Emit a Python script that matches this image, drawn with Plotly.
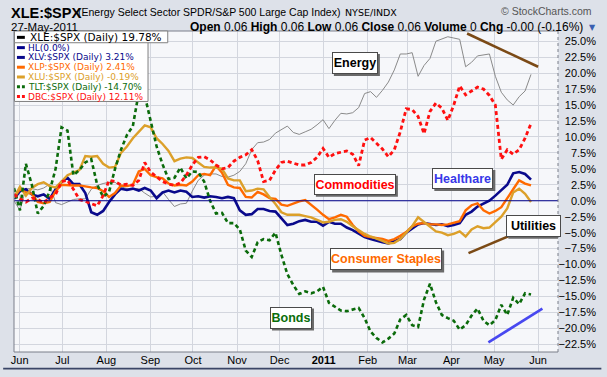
import pandas as pd
import plotly.graph_objects as go

W, H = 607, 377
PL, PR, PT, PB = 11, 563, 31, 359  # plot area in pixels

# ---------------- data ----------------
dates = pd.date_range("2010-05-28", "2011-05-27", periods=88)

xle_vals = [0.0, -1.5, 1.9, 1.9, 1.7, 2.0, 2.6, -0.3, -0.6, -0.2,
            0.2, 0.3, 0.3, 1.8, 2.4, 2.7, 2.9, 2.9, 2.2, 1.9,
            1.9, 1.9, 1.2, 0.6, 0.7, 1.4, 0.2, -0.9, -0.5, -0.4,
            1.5, 3.2, 4.0, 4.2, 4.2, 3.8, 3.7, 4.0, 4.6, 5.8,
            8.0, 9.1, 9.2, 9.6, 10.6, 11.2, 11.7, 10.7, 10.4, 10.8,
            11.2, 11.9, 12.7, 11.3, 12.6, 13.7, 13.6, 13.8, 14.6, 16.8,
            17.1, 16.2, 17.3, 18.6, 20.5, 23.0, 23.0, 23.2, 19.5, 21.2,
            22.3, 25.0, 25.3, 25.7, 25.5, 25.3, 21.0, 21.7, 22.7, 22.8,
            23.0, 19.5, 17.0, 15.8, 15.0, 16.3, 17.2, 19.8]

xlv_vals = [0.3, 1.5, 1.8, 1.0, 0.7, 1.0, 0.3, 1.8, 3.0, 3.6,
            2.6, 2.6, 1.2, -1.8, -2.2, -1.6, -0.2, 1.0, 1.9, 1.7,
            1.9, 1.6, 2.0, 1.6, 0.4, 1.3, 1.6, 1.3, 1.6, 1.4,
            0.6, 0.7, 0.5, 0.7, 0.6, 0.4, 0.6, 0.4, -1.5, -2.2,
            -2.1, -1.3, -1.3, -1.6, -1.7, -2.8, -3.8, -3.6, -3.2, -3.0,
            -3.3, -3.3, -3.9, -3.3, -3.6, -3.6, -4.2, -4.6, -5.2, -5.7,
            -6.0, -6.3, -6.5, -6.7, -6.4, -6.0, -5.0, -4.3, -3.7, -3.5,
            -3.7, -3.8, -3.7, -4.0, -3.8, -3.5, -2.2, -1.7, -0.9, -0.5,
            0.0, 0.8, 1.6, 2.5, 4.3, 4.5, 4.2, 3.3]

xlp_vals = [0.5, 1.8, 1.3, 1.1, -0.2, -0.4, -0.2, 1.5, 2.5, 2.4,
            2.4, 2.4, 2.2, 2.1, 2.0, 1.5, 0.6, 1.2, 2.4, 2.3,
            2.5, 4.6, 5.0, 4.0, 3.7, 3.5, 2.7, 2.4, 2.5, 2.4,
            3.0, 4.0, 4.2, 4.0, 5.5, 4.4, 2.5, 2.1, 2.0, 0.6,
            0.5, 1.4, 1.0, 0.4, 0.3, -0.6, -0.8, -0.4, -0.1, 0.1,
            -0.6, -1.4, -2.2, -2.9, -2.6, -2.2, -2.5, -3.8, -4.8, -5.5,
            -5.7, -5.8, -6.0, -6.3, -6.0, -5.5, -4.9, -4.0, -3.6, -3.5,
            -3.7, -3.7, -3.8, -3.7, -3.5, -3.2, -1.5, -0.7, -0.4, -1.5,
            -2.0, -1.6, -1.0, 0.3, 1.8, 3.2, 2.7, 2.4]

xlu_vals = [0.5, 2.2, 0.8, 2.0, 2.6, 2.9, 2.3, 2.1, 3.0, 4.0,
            4.4, 4.8, 7.0, 6.9, 7.0, 5.8, 5.2, 5.3, 7.5, 8.5,
            9.8, 10.8, 11.8, 11.5, 9.8, 8.9, 7.8, 6.2, 6.6, 6.8,
            6.7, 6.0, 5.3, 5.2, 5.2, 5.0, 3.5, 3.2, 3.2, 1.5,
            1.6, 1.9, 1.8, 0.6, -0.5, -1.8, -2.2, -2.2, -2.2, -2.4,
            -2.6, -3.0, -3.4, -3.3, -3.0, -2.9, -3.3, -4.0, -4.6, -5.2,
            -5.6, -5.9, -6.3, -6.7, -6.6, -6.0, -5.0, -4.0, -2.6, -3.3,
            -4.0, -4.8, -5.0, -5.4, -5.2, -4.8, -5.6, -4.5, -4.0, -4.3,
            -4.2, -3.3, -2.5, -1.2, 1.3, 1.9, 1.1, -0.2]

tlt_vals = [2.0, -1.5, 5.8, 2.5, -2.0, -0.8, 1.5, 5.0, 11.5, 11.0,
            4.0, 4.8, 6.0, 6.5, 2.5, 0.6, 1.4, 5.0, 8.0, 10.3,
            11.7, 17.0, 16.5, 12.3, 8.5, 5.7, 3.4, 3.6, 5.2, 3.5,
            4.6, 4.5, 3.0, 0.0, -2.0, -1.9, -3.5, -3.5, -4.5, -7.8,
            -8.8, -6.5, -6.0, -6.2, -5.0, -8.5, -11.5, -13.2, -14.6, -14.2,
            -14.5, -14.2, -13.5, -16.0, -16.6, -17.2, -17.3, -17.1, -16.8, -18.4,
            -20.5, -21.5, -22.2, -21.6, -20.8, -18.6, -17.9, -19.5, -19.8, -15.5,
            -13.0, -15.9, -17.9, -18.4, -18.8, -20.2, -19.5, -18.0, -16.9, -18.8,
            -19.5, -18.7, -16.3, -17.9, -15.2, -16.2, -14.5, -14.7]

dbc_vals = [1.0, 0.3, -0.2, 0.4, 0.2, -0.3, 0.5, 1.0, 3.0, 3.2,
            1.8, 0.2, -0.1, -0.5, -0.8, 0.8, 3.2, 3.0, 2.5, 2.6,
            2.4, 3.2, 6.0, 4.5, 3.8, 3.0, 2.6, 2.4, 2.8, 4.0,
            5.6, 6.8, 6.9, 6.4, 5.6, 5.0, 5.2, 6.2, 6.8, 7.2,
            8.0, 6.3, 3.0, 3.2, 4.8, 6.0, 6.2, 5.9, 5.6, 5.6,
            6.0, 6.8, 8.2, 6.8, 7.4, 7.6, 7.8, 7.3, 5.5, 9.5,
            9.9, 9.0, 8.1, 6.9, 8.0, 10.8, 14.4, 14.3, 13.2, 10.5,
            14.0, 15.3, 14.5, 12.6, 15.0, 18.0, 16.6, 17.2, 17.8, 17.5,
            16.5, 15.0, 6.5, 8.0, 7.3, 8.0, 9.8, 12.1]

hl_level = 0.0

trace_ids = ["XLE", "XLV", "XLP", "XLU", "TLT", "DBC"]
legend_texts = ["XLE:&#36;SPX (Daily) 19.78%", "XLV:&#36;SPX (Daily) 3.21%",
                "XLP:&#36;SPX (Daily) 2.41%", "XLU:&#36;SPX (Daily) -0.19%",
                "TLT:&#36;SPX (Daily) -14.70%", "DBC:&#36;SPX (Daily) 12.11%"]
hl_name = "HL(0.0%)"
chart_title = "XLE:&#36;SPX"

month_ticks = ["2010-06-01", "2010-07-01", "2010-08-01", "2010-09-01", "2010-10-01",
               "2010-11-01", "2010-12-01", "2011-01-01", "2011-02-01", "2011-03-01",
               "2011-04-01", "2011-05-01", "2011-06-01"]
month_labels = ["Jun", "Jul", "Aug", "Sep", "Oct", "Nov", "Dec", "<b>2011</b>",
                "Feb", "Mar", "Apr", "May", "Jun"]

# text labels on the chart: (text, date, value, colour, box width px, box height px)
labels = [("Energy", "2011-01-23", 21.6, "#000000", 46, 22),
          ("Commodities", "2011-01-23", 2.6, "#ff0000", 82, 21),
          ("Healthare", "2011-04-09", 3.5, "#3838e8", 61, 21),
          ("Utilities", "2011-05-29", -3.9, "#000000", 55, 22),
          ("Consumer Staples", "2011-02-14", -9.2, "#ff6a00", 112, 22),
          ("Bonds", "2010-12-09", -18.3, "#0a6e0a", 42, 22)]

# hand-drawn trend lines: (start date, start value, end date, end value, colour)
trendlines = [("2011-04-12", 26.2, "2011-06-01", 21.0, "#7b4a16"),
              ("2011-04-13", -8.2, "2011-05-15", -5.2, "#7b4a16"),
              ("2011-04-27", -22.2, "2011-06-04", -16.9, "#4848f0")]

# ---------------- styling ----------------
styles = [dict(color="#8a8a8a", width=1, dash="solid"),
          dict(color="#0a0a8c", width=2.6, dash="solid"),
          dict(color="#ff6a00", width=2.4, dash="solid"),
          dict(color="#dca02a", width=2.4, dash="solid"),
          dict(color="#0b6b0b", width=2.6, dash="4px,3px"),
          dict(color="#ff1010", width=2.8, dash="4px,3px")]
hl_color = "#00008b"

values = [xle_vals, xlv_vals, xlp_vals, xlu_vals, tlt_vals, dbc_vals]


def pxx(x):
    return (x - PL) / (PR - PL)


def pxy(y):
    return (PB - y) / (PB - PT)


fig = go.Figure()
for name, vals, st in zip(trace_ids, values, styles):
    fig.add_trace(go.Scatter(x=dates, y=vals, mode="lines", name=name,
                             line=dict(color=st["color"], width=st["width"], dash=st["dash"]),
                             showlegend=False, hoverinfo="skip"))

shapes = []
shapes.append(dict(type="line", xref="paper", yref="y", x0=0, x1=1, y0=hl_level, y1=hl_level,
                   line=dict(color=hl_color, width=1)))
for x0, y0, x1, y1, c in trendlines:
    shapes.append(dict(type="line", xref="x", yref="y", x0=x0, y0=y0, x1=x1, y1=y1,
                       line=dict(color=c, width=2.6)))
shapes.append(dict(type="line", xref="paper", yref="paper", x0=0, x1=0, y0=0, y1=1,
                   line=dict(color="#7a7f8a", width=1)))
shapes.append(dict(type="line", xref="paper", yref="paper", x0=0, x1=1, y0=0, y1=0,
                   line=dict(color="#7a7f8a", width=1)))
shapes.append(dict(type="line", xref="paper", yref="paper", x0=0, x1=1, y0=1, y1=1,
                   line=dict(color="#7a7f8a", width=1)))
shapes.append(dict(type="line", xref="paper", yref="paper", x0=1, x1=1, y0=0, y1=1,
                   line=dict(color="#7a7f8a", width=1, dash="dot")))
shapes.append(dict(type="rect", xref="paper", yref="paper", x0=pxx(0), x1=pxx(W),
                   y0=pxy(H), y1=pxy(H - 2), fillcolor="#3a4566", line=dict(width=0)))

for txt, xd, yv, col, bw, bh in labels:
    shapes.append(dict(type="rect", xref="x", yref="y", xsizemode="pixel", ysizemode="pixel",
                       xanchor=xd, yanchor=yv, x0=-bw / 2 + 2, x1=bw / 2 + 2,
                       y0=-bh / 2 - 2, y1=bh / 2 - 2,
                       fillcolor="#6a6a6a", line=dict(width=0)))

shapes.append(dict(type="rect", xref="paper", yref="paper", x0=pxx(11.5), x1=pxx(147),
                   y0=pxy(103), y1=pxy(31), fillcolor="#ffffff", line=dict(color="#808080", width=1)))
shapes.append(dict(type="rect", xref="paper", yref="paper", x0=pxx(11.5), x1=pxx(167),
                   y0=pxy(43), y1=pxy(31), fillcolor="#ffffff", line=dict(color="#808080", width=1)))

legend_rows = [(legend_texts[0], styles[0]["color"], "solid", 37.5, 10.5),
               (hl_name, hl_color, "solid", 48, 9),
               (legend_texts[1], styles[1]["color"], "solid", 58, 9),
               (legend_texts[2], styles[2]["color"], "solid", 68, 9),
               (legend_texts[3], styles[3]["color"], "solid", 78, 9),
               (legend_texts[4], styles[4]["color"], "dash", 88, 9),
               (legend_texts[5], styles[5]["color"], "dash", 98, 9)]

annotations = []
for i, (txt, col, dsh, yy, fs) in enumerate(legend_rows):
    swatch_col = "#000000" if i == 0 else col
    shapes.append(dict(type="line", xref="paper", yref="paper", x0=pxx(14), x1=pxx(22),
                       y0=pxy(yy), y1=pxy(yy),
                       line=dict(color=swatch_col, width=3, dash="3px,2px" if dsh == "dash" else "solid")))
    annotations.append(dict(xref="paper", yref="paper", x=pxx(25 if i == 0 else 23.5), y=pxy(yy),
                            xanchor="left", yanchor="middle", showarrow=False, text=txt,
                            font=dict(family="DejaVu Sans", size=fs,
                                      color="#000000" if i == 0 else col)))

for txt, xd, yv, col, bw, bh in labels:
    annotations.append(dict(x=xd, y=yv, xref="x", yref="y", text="<b>%s</b>" % txt, showarrow=False,
                            width=bw - 2, height=bh - 2,
                            font=dict(family="Liberation Sans, Arial", size=12.5, color=col),
                            bgcolor="#ffffff", bordercolor="#4a4a4a", borderwidth=1, borderpad=0))

hdr_font = "Liberation Sans, Arial"
annotations += [
    dict(xref="paper", yref="paper", x=pxx(6), y=pxy(2), xanchor="left", yanchor="top",
         showarrow=False, text=chart_title,
         font=dict(family="Liberation Sans", size=14.5, color="#000000", weight="bold")),
    dict(xref="paper", yref="paper", x=pxx(74), y=pxy(12), xanchor="left", yanchor="middle",
         showarrow=False, text="(Energy Select Sector SPDR/S&P 500 Large Cap Index)",
         font=dict(family=hdr_font, size=10.5, color="#000000")),
    dict(xref="paper", yref="paper", x=pxx(345), y=pxy(12), xanchor="left", yanchor="middle",
         showarrow=False, text="NYSE/INDX", font=dict(family="DejaVu Sans", size=9.5, color="#000000")),
    dict(xref="paper", yref="paper", x=pxx(600), y=pxy(11), xanchor="right", yanchor="middle",
         showarrow=False, text="© StockCharts.com", font=dict(family=hdr_font, size=10.5, color="#555555")),
    dict(xref="paper", yref="paper", x=pxx(6), y=pxy(27), xanchor="left", yanchor="middle",
         showarrow=False, text="27-May-2011", font=dict(family=hdr_font, size=11.5, color="#000000")),
    dict(xref="paper", yref="paper", x=pxx(590), y=pxy(26.5), xanchor="right", yanchor="middle",
         showarrow=False,
         text="<b>Open</b> 0.06 <b>High</b> 0.06 <b>Low</b> 0.06 <b>Close</b> 0.06 "
              "<b>Volume</b> 0 <b>Chg</b> -0.00 (-0.16%)",
         font=dict(family=hdr_font, size=12, color="#000000")),
    dict(xref="paper", yref="paper", x=pxx(592), y=pxy(27), xanchor="left", yanchor="middle",
         showarrow=False, text="▼", font=dict(family="DejaVu Sans", size=8, color="#3a5fb0")),
]

fig.update_layout(
    autosize=True,
    margin=dict(l=PL, r=W - PR, t=PT, b=H - PB, pad=0),
    paper_bgcolor="#dde1e9",
    plot_bgcolor="#f6f7fa",
    showlegend=False,
    shapes=shapes,
    annotations=annotations,
    xaxis=dict(type="date", range=["2010-05-28", "2011-06-15"],
               tickvals=month_ticks, ticktext=month_labels,
               showgrid=True, gridcolor="#d3d6de", gridwidth=1,
               ticks="", tickfont=dict(family=hdr_font, size=11, color="#000000"),
               zeroline=False, showline=False, fixedrange=True),
    yaxis=dict(range=[-23.7, 26.6], side="right", tick0=0, dtick=2.5,
               tickformat=".1f", ticksuffix="%",
               showgrid=True, gridcolor="#d3d6de", gridwidth=1, zeroline=False,
               ticks="", ticklabelposition="inside", ticklabelstandoff=-41,
               tickfont=dict(family=hdr_font, size=11, color="#000000"),
               showline=False, fixedrange=True),
)

fig.write_html("out.html", config={"responsive": False, "staticPlot": True, "displayModeBar": False},
               default_width="%dpx;position:absolute;left:0px;top:0px" % W,
               default_height="%dpx" % H)
